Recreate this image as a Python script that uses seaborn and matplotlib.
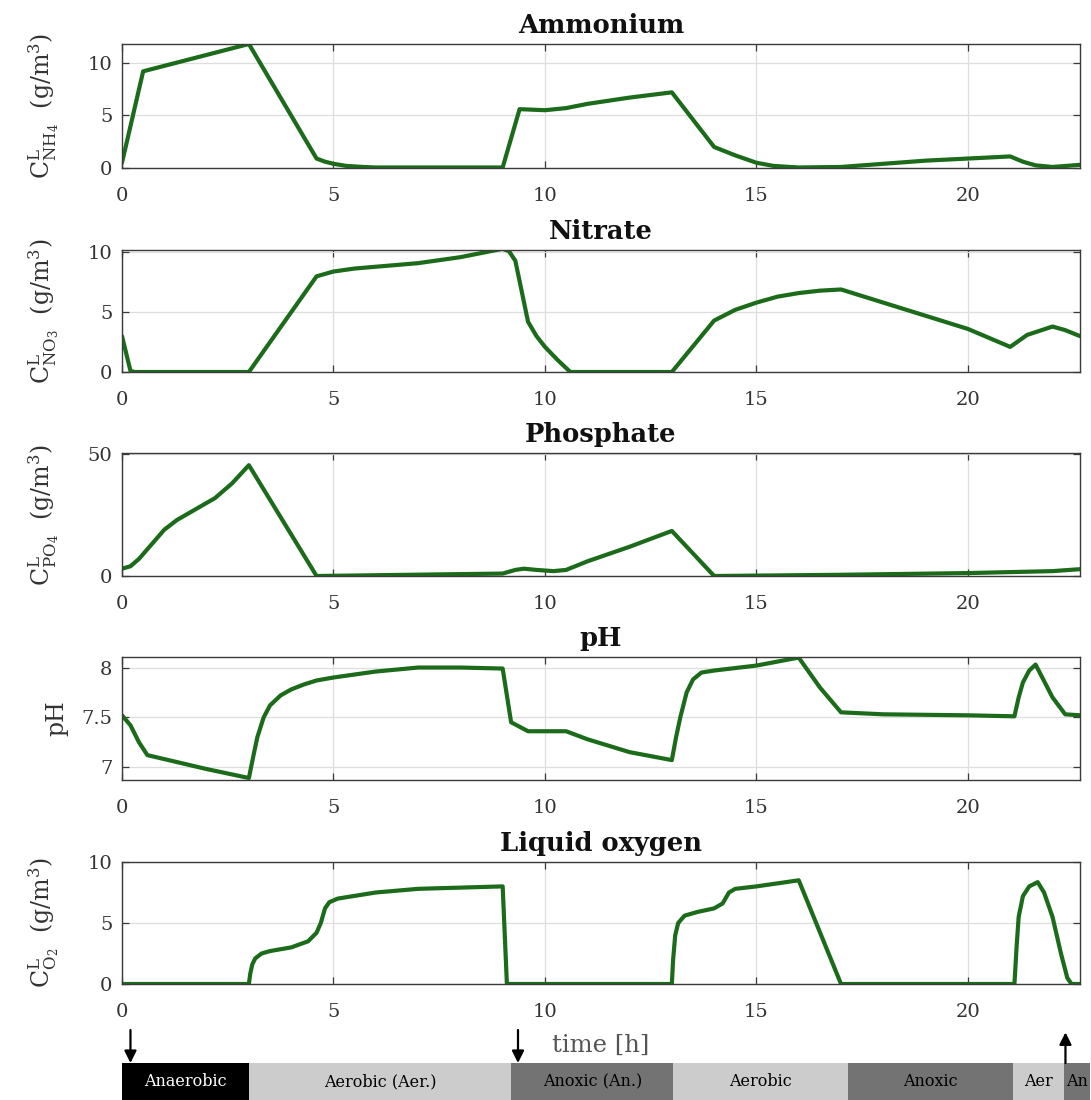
import numpy as np
import pandas as pd
import matplotlib
matplotlib.use("Agg")
import matplotlib.pyplot as plt
import seaborn as sns

# ---------------- data ----------------
nh4_t = [0, 0.5, 3, 4.6, 4.8, 5, 5.3, 5.7, 6, 9, 9.4, 10, 10.5, 11, 12, 13, 14, 14.5, 15, 15.4, 16, 17, 18, 19, 20, 21, 21.3, 21.6, 22, 22.65]
nh4_v = [0.5, 9.2, 11.8, 0.9, 0.6, 0.4, 0.2, 0.1, 0.05, 0.05, 5.6, 5.5, 5.7, 6.1, 6.7, 7.2, 2.0, 1.2, 0.5, 0.2, 0.05, 0.1, 0.4, 0.7, 0.9, 1.1, 0.6, 0.25, 0.1, 0.3]

no3_t = [0, 0.2, 0.3, 3, 4.6, 5, 5.5, 6, 7, 8, 9, 9.15, 9.3, 9.6, 9.8, 10, 10.3, 10.6, 13, 14, 14.5, 15, 15.5, 16, 16.5, 17, 18, 19, 20, 21, 21.2, 21.4, 22, 22.3, 22.65]
no3_v = [3.0, 0.1, 0, 0, 8.0, 8.4, 8.65, 8.8, 9.1, 9.6, 10.3, 10.1, 9.3, 4.2, 3.0, 2.1, 1.0, 0, 0, 4.3, 5.2, 5.8, 6.3, 6.6, 6.8, 6.9, 5.8, 4.7, 3.6, 2.1, 2.6, 3.1, 3.8, 3.5, 3.0]

po4_t = [0, 0.2, 0.4, 0.7, 1.0, 1.3, 1.7, 2.2, 2.6, 3.0, 4.6, 9.0, 9.3, 9.5, 9.8, 10.2, 10.5, 11.0, 12.0, 13.0, 14.0, 17.0, 20.0, 22.0, 22.65]
po4_v = [3, 4, 7, 13, 19, 23, 27, 32, 38, 45.5, 0, 1, 2.5, 3, 2.5, 2, 2.5, 6, 12, 18.5, 0, 0.5, 1.2, 2, 2.8]

ph_t = [0, 0.2, 0.4, 0.6, 1, 2, 3, 3.1, 3.2, 3.35, 3.5, 3.75, 4, 4.3, 4.6, 5, 6, 7, 8, 9, 9.2, 9.6, 10.5, 11, 12, 13, 13.1, 13.2, 13.35, 13.5, 13.7, 14, 15, 16, 16.5, 17, 18, 20, 21.1, 21.2, 21.3, 21.45, 21.6, 22, 22.3, 22.65]
ph_v = [7.52, 7.42, 7.25, 7.12, 7.08, 6.98, 6.89, 7.1, 7.3, 7.5, 7.62, 7.72, 7.78, 7.83, 7.87, 7.9, 7.96, 8.0, 8.0, 7.99, 7.45, 7.36, 7.36, 7.28, 7.15, 7.07, 7.3, 7.5, 7.75, 7.88, 7.95, 7.97, 8.02, 8.1, 7.8, 7.55, 7.53, 7.52, 7.51, 7.7, 7.85, 7.97, 8.03, 7.7, 7.53, 7.52]

o2_t = [0, 3, 3.03, 3.08, 3.15, 3.3, 3.5, 4, 4.4, 4.6, 4.7, 4.8, 4.9, 5.1, 6, 7, 8, 9, 9.05, 9.1, 13, 13.03, 13.08, 13.15, 13.3, 13.6, 14, 14.2, 14.35, 14.5, 15, 16, 17, 21.1, 21.15, 21.2, 21.3, 21.45, 21.65, 21.8, 22, 22.2, 22.35, 22.45, 22.65]
o2_v = [0, 0, 0.8, 1.6, 2.1, 2.5, 2.7, 3.0, 3.5, 4.2, 5.0, 6.2, 6.7, 7.0, 7.5, 7.8, 7.9, 8.0, 4.0, 0, 0, 2.0, 4.0, 5.0, 5.6, 5.9, 6.2, 6.6, 7.5, 7.8, 8.0, 8.5, 0, 0, 3.0, 5.5, 7.2, 8.0, 8.35, 7.5, 5.5, 2.5, 0.5, 0, 0]

titles = ["Ammonium", "Nitrate", "Phosphate", "pH", "Liquid oxygen"]
ylabels = [r"$\mathrm{C}^{\mathrm{L}}_{\mathrm{NH}_4}$  (g/m$^3$)",
           r"$\mathrm{C}^{\mathrm{L}}_{\mathrm{NO}_3}$  (g/m$^3$)",
           r"$\mathrm{C}^{\mathrm{L}}_{\mathrm{PO}_4}$  (g/m$^3$)",
           "pH",
           r"$\mathrm{C}^{\mathrm{L}}_{\mathrm{O}_2}$  (g/m$^3$)"]
ylims = [(0, 11.8), (0, 10.2), (0, 50.5), (6.87, 8.106), (0, 10)]
yticks = [[0, 5, 10], [0, 5, 10], [0, 50], [7, 7.5, 8], [0, 5, 10]]
ytick_labels = [["0", "5", "10"], ["0", "5", "10"], ["0", "50"], ["7", "7.5", "8"], ["0", "5", "10"]]
xticks = [0, 5, 10, 15, 20]

phase_names = ["Anaerobic", "Aerobic (Aer.)", "Anoxic (An.)", "Aerobic", "Anoxic", "Aer", "An"]
phase_start = [0, 3.0, 9.2, 13.03, 17.16, 21.06, 22.27]
phase_end = [3.0, 9.2, 13.03, 17.16, 21.06, 22.27, 22.88]
phase_kind = ["anaerobic", "aerobic", "anoxic", "aerobic", "anoxic", "aerobic", "anoxic"]
arrow_t = [0.2, 9.36, 22.3]
arrow_dir = ["down", "down", "up"]

# ---------------- style ----------------
sns.set_theme(style="white")
plt.rcParams["font.family"] = ["DejaVu Serif"]
plt.rcParams["mathtext.fontset"] = "dejavuserif"

W, H = 1091, 1100
fig = plt.figure(figsize=(W / 100, H / 100), dpi=100)

green = "#1b6b1b"
left_px, right_px = 122, 1080
panels_px = [(44, 168), (250, 372), (453, 576), (657, 780), (862, 984)]
series = [(nh4_t, nh4_v), (no3_t, no3_v), (po4_t, po4_v), (ph_t, ph_v), (o2_t, o2_v)]

for i, ((top, bot), (t, v)) in enumerate(zip(panels_px, series)):
    ax = fig.add_axes([left_px / W, 1 - bot / H, (right_px - left_px) / W, (bot - top) / H])
    df = pd.DataFrame({"t": t, "v": v})
    sns.lineplot(data=df, x="t", y="v", ax=ax, color=green, linewidth=3.0,
                 sort=False, estimator=None)
    ax.set_xlim(0, 22.65)
    ax.set_ylim(*ylims[i])
    ax.set_xticks(xticks)
    ax.set_xticklabels([str(x) for x in xticks])
    ax.set_yticks(yticks[i])
    ax.set_yticklabels(ytick_labels[i])
    ax.grid(True, color="#dedede", linewidth=0.9)
    ax.set_axisbelow(True)
    for s in ax.spines.values():
        s.set_visible(True)
        s.set_color("#3a3a3a")
        s.set_linewidth(1.0)
    ax.tick_params(direction="in", length=5, width=0.9, color="#3a3a3a",
                   top=True, right=True, bottom=True, left=True,
                   labelsize=14, labelcolor="#333333")
    ax.tick_params(axis="x", pad=14)
    ax.tick_params(axis="y", pad=7)
    ax.set_xlabel("")
    ax.set_ylabel(ylabels[i], fontsize=17, color="#333333")
    if i != 3:
        ax.yaxis.set_label_coords(-0.064, 0.5)
    else:
        ax.yaxis.set_label_coords(-0.056, 0.5)
    ax.set_title(titles[i], fontsize=18.5, fontweight="bold", color="#111111", pad=8)

fig.text((left_px + right_px) / 2 / W, 1 - 1045 / H, "time [h]", ha="center", va="center",
         fontsize=17.5, color="#555555")

# phase bar
bx0, bx1, by0, by1 = 122, 1090, 1063, 1100
bax = fig.add_axes([bx0 / W, 1 - by1 / H, (bx1 - bx0) / W, (by1 - by0) / H])
colors = {"anaerobic": "#000000", "aerobic": "#cccccc", "anoxic": "#737373"}
widths = [e - s for s, e in zip(phase_start, phase_end)]
bax.barh([0] * len(phase_start), widths, left=phase_start, height=1.0,
         color=[colors[k] for k in phase_kind], edgecolor="none")
for name, s, e, k in zip(phase_names, phase_start, phase_end, phase_kind):
    bax.text((s + e) / 2, 0, name, ha="center", va="center", fontsize=11.5,
             color="white" if k == "anaerobic" else "black")
bax.set_xlim(0, 22.88)
bax.set_ylim(-0.5, 0.5)
bax.axis("off")

# arrows
aax = fig.add_axes([bx0 / W, 1 - by0 / H, (bx1 - bx0) / W, 34 / H])
aax.set_xlim(0, 22.88)
aax.set_ylim(0, 1)
aax.axis("off")
for at, d in zip(arrow_t, arrow_dir):
    if d == "down":
        aax.annotate("", xy=(at, 0.0), xytext=(at, 0.97),
                     arrowprops=dict(arrowstyle="-|>", color="black", lw=1.6,
                                     mutation_scale=18, shrinkA=0, shrinkB=0))
    else:
        aax.annotate("", xy=(at, 0.9), xytext=(at, 0.0),
                     arrowprops=dict(arrowstyle="-|>", color="black", lw=1.6,
                                     mutation_scale=18, shrinkA=0, shrinkB=0))

fig.savefig("out.png", dpi=100, facecolor="white")
